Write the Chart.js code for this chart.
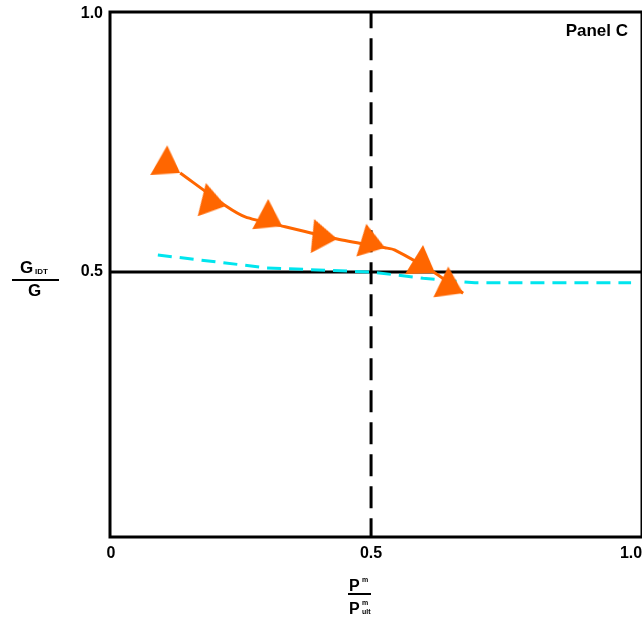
<!DOCTYPE html>
<html>
<head>
<meta charset="utf-8">
<script src="https://cdn.jsdelivr.net/npm/chart.js@4"></script>
<style>
  html, body { margin: 0; padding: 0; background: #fff; overflow: hidden; }
  #wrap { width: 642px; height: 617px; position: relative; }
</style>
</head>
<body>
<div id="wrap"><canvas id="chart"></canvas></div>
<script>
'use strict';

// ─── Data ─────────────────────────────────────────────────────────────────────

// orange curve vertices; MARK says which ones carry a triangle
const ORANGE_X = [0.133, 0.221, 0.258, 0.329, 0.435, 0.527, 0.545, 0.623, 0.677];
const ORANGE_Y = [0.692, 0.628, 0.607, 0.589, 0.564, 0.547, 0.543, 0.498, 0.459];
const MARK = [1, 1, 0, 1, 1, 1, 0, 1, 1];
const MARK_ROT = [-2, -18, 0, -4, -26, -15, 0, 0, -6];

const CYAN_X = [0.09, 0.30, 0.50, 0.60, 0.70, 1.00];
const CYAN_Y = [0.533, 0.508, 0.500, 0.488, 0.479, 0.479];

const X_TICKS = [0, 0.5, 1.0];
const X_TICK_LABELS = ['0', '0.5', '1.0'];
const Y_TICKS = [0.5, 1.0];
const Y_TICK_LABELS = ['0.5', '1.0'];

const REF_X = 0.5;
const REF_Y = 0.5;

const FONT = "'Liberation Sans', Arial, sans-serif";
const ORANGE = '#ff6600';

// ─── Triangle marker (anchored at its lower-right corner) ────────────────────

function makeTriangle() {
  const c = document.createElement('canvas');
  c.width = 64;
  c.height = 64;
  const g = c.getContext('2d');
  g.fillStyle = ORANGE;
  g.beginPath();
  g.moveTo(32, 32);
  g.lineTo(2, 33);
  g.lineTo(20, 4);
  g.closePath();
  g.fill();
  return c;
}
const triangle = makeTriangle();

// ─── Plugins ──────────────────────────────────────────────────────────────────

const frameAndTitles = {
  id: 'frameAndTitles',
  beforeDatasetsDraw(chart) {
    const { ctx, chartArea: a } = chart;
    ctx.save();
    ctx.strokeStyle = '#000';
    ctx.lineWidth = 3;
    ctx.strokeRect(a.left, a.top, a.right - a.left, a.bottom - a.top);
    ctx.restore();
  },
  afterDraw(chart) {
    const { ctx, chartArea: a } = chart;
    const xs = chart.scales.x;
    ctx.save();
    ctx.fillStyle = '#000';

    // x tick labels (drawn here so they do not pad the plot area)
    ctx.font = `bold 16px ${FONT}`;
    ctx.textAlign = 'center';
    ctx.textBaseline = 'top';
    X_TICKS.forEach((v, i) => {
      ctx.fillText(X_TICK_LABELS[i], xs.getPixelForValue(v), a.bottom + 9);
    });

    ctx.textBaseline = 'alphabetic';

    // Panel label
    ctx.font = `bold 17px ${FONT}`;
    ctx.textAlign = 'right';
    ctx.fillText('Panel C', 628, 36);

    // y-axis title: G_IDT / G
    ctx.textAlign = 'left';
    ctx.font = `bold 17px ${FONT}`;
    ctx.fillText('G', 20, 273);
    ctx.font = `bold 8px ${FONT}`;
    ctx.fillText('IDT', 35, 274);
    ctx.fillRect(12, 279, 47, 2);
    ctx.font = `bold 17px ${FONT}`;
    ctx.fillText('G', 28, 296);

    // x-axis title: P^m / P^m_ult
    ctx.font = `bold 16px ${FONT}`;
    ctx.fillText('P', 349, 591);
    ctx.font = `bold 7px ${FONT}`;
    ctx.fillText('m', 362, 582);
    ctx.fillRect(348, 593, 23, 2);
    ctx.font = `bold 16px ${FONT}`;
    ctx.fillText('P', 349, 614);
    ctx.font = `bold 7px ${FONT}`;
    ctx.fillText('m', 362, 605);
    ctx.fillText('ult', 362, 614);
    ctx.restore();
  },
};

// ─── Chart ────────────────────────────────────────────────────────────────────

const orangePts = ORANGE_X.map((x, i) => ({ x, y: ORANGE_Y[i] }));
const cyanPts = CYAN_X.map((x, i) => ({ x, y: CYAN_Y[i] }));

new Chart(document.getElementById('chart'), {
  type: 'scatter',
  data: {
    datasets: [
      {
        label: 'orange',
        data: orangePts,
        showLine: true,
        borderColor: ORANGE,
        backgroundColor: ORANGE,
        borderWidth: 3,
        tension: 0.25,
        pointStyle: triangle,
        pointRadius: MARK.map((m) => (m ? 10 : 0)),
        pointRotation: MARK_ROT,
        order: 0,
      },
      {
        label: 'cyan',
        data: cyanPts,
        showLine: true,
        borderColor: '#00e5ee',
        borderWidth: 3,
        borderDash: [14, 8],
        pointRadius: 0,
        tension: 0,
        order: 1,
      },
      {
        label: 'hRef',
        data: [{ x: -0.01, y: REF_Y }, { x: 1.03, y: REF_Y }],
        showLine: true,
        borderColor: '#000',
        borderWidth: 3,
        pointRadius: 0,
        order: 2,
      },
      {
        label: 'vRef',
        data: [{ x: REF_X, y: -0.02 }, { x: REF_X, y: 1.01 }],
        showLine: true,
        borderColor: '#000',
        borderWidth: 3,
        borderDash: [22, 10],
        pointRadius: 0,
        order: 2,
      },
    ],
  },
  options: {
    responsive: true,
    maintainAspectRatio: false,
    animation: false,
    layout: { autoPadding: false, padding: { top: 12, right: 0, left: 0, bottom: 0 } },
    plugins: {
      legend: { display: false },
      tooltip: { enabled: false },
    },
    scales: {
      x: {
        type: 'linear',
        min: -0.002,
        max: 1.021,
        afterBuildTicks: (s) => { s.ticks = X_TICKS.map((v) => ({ value: v })); },
        afterFit: (s) => { s.height = 80; },
        grid: { display: false, drawTicks: false },
        border: { display: false },
        ticks: { display: false },
      },
      y: {
        type: 'linear',
        min: -0.0136,
        max: 1.004,
        afterBuildTicks: (s) => { s.ticks = Y_TICKS.map((v) => ({ value: v })); },
        afterFit: (s) => { s.width = 110; s.paddingTop = 0; s.paddingBottom = 0; },
        grid: { display: false, drawTicks: false },
        border: { display: false },
        ticks: {
          padding: 7,
          color: '#000',
          font: { family: FONT, size: 16, weight: 'bold' },
          callback: (v) => Y_TICK_LABELS[Y_TICKS.indexOf(v)],
        },
      },
    },
  },
  plugins: [frameAndTitles],
});
</script>
</body>
</html>
